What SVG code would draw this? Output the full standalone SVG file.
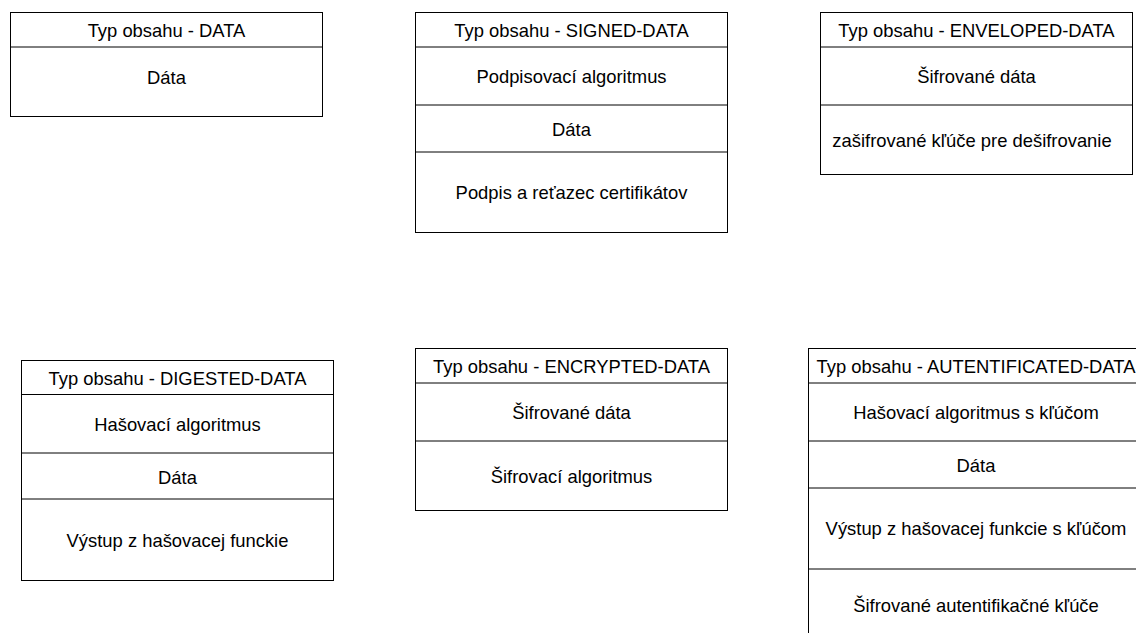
<svg xmlns="http://www.w3.org/2000/svg" width="1136" height="633" viewBox="0 0 1136 633">
<style>
rect.b{fill:#fff;stroke:#000;stroke-width:1}
line{stroke:#000;stroke-width:1}
text{font-family:"Liberation Sans",Arial,sans-serif;font-size:18.4px;fill:#000;text-anchor:middle;dominant-baseline:central}
</style>
<rect width="1136" height="633" fill="#fff"/>
<g id="data">
<rect class="b" x="10.5" y="12.5" width="312" height="104"/>
<line x1="10.5" y1="47" x2="322.5" y2="47"/>
<text x="166.5" y="30">Typ obsahu - DATA</text>
<text x="166.5" y="77">Dáta</text>
</g>
<g id="signed-data">
<rect class="b" x="415.5" y="12.5" width="312" height="220"/>
<line x1="415.5" y1="47" x2="727.5" y2="47"/>
<line x1="415.5" y1="105" x2="727.5" y2="105"/>
<line x1="415.5" y1="152" x2="727.5" y2="152"/>
<text x="571.5" y="30">Typ obsahu - SIGNED-DATA</text>
<text x="571.5" y="76">Podpisovací algoritmus</text>
<text x="571.5" y="129">Dáta</text>
<text x="571.5" y="192">Podpis a reťazec certifikátov</text>
</g>
<g id="enveloped-data">
<rect class="b" x="820.5" y="12.5" width="312" height="162"/>
<line x1="820.5" y1="47" x2="1132.5" y2="47"/>
<line x1="820.5" y1="105" x2="1132.5" y2="105"/>
<text x="976.5" y="30">Typ obsahu - ENVELOPED-DATA</text>
<text x="976.5" y="76">Šifrované dáta</text>
<text x="972" y="140">zašifrované kľúče pre dešifrovanie</text>
</g>
<g id="digested-data">
<rect class="b" x="21.5" y="360.5" width="312" height="220"/>
<line x1="21.5" y1="394.5" x2="333.5" y2="394.5"/>
<line x1="21.5" y1="453" x2="333.5" y2="453"/>
<line x1="21.5" y1="499" x2="333.5" y2="499"/>
<text x="177.5" y="378">Typ obsahu - DIGESTED-DATA</text>
<text x="177.5" y="424">Hašovací algoritmus</text>
<text x="177.5" y="477">Dáta</text>
<text x="177.5" y="540">Výstup z hašovacej funckie</text>
</g>
<g id="encrypted-data">
<rect class="b" x="415.5" y="348.5" width="312" height="162"/>
<line x1="415.5" y1="383" x2="727.5" y2="383"/>
<line x1="415.5" y1="441" x2="727.5" y2="441"/>
<text x="571.5" y="366">Typ obsahu - ENCRYPTED-DATA</text>
<text x="571.5" y="412">Šifrované dáta</text>
<text x="571.5" y="476">Šifrovací algoritmus</text>
</g>
<g id="autentificated-data">
<rect class="b" x="808.5" y="348.5" width="336" height="295"/>
<line x1="808.5" y1="383" x2="1144" y2="383"/>
<line x1="808.5" y1="441" x2="1144" y2="441"/>
<line x1="808.5" y1="488" x2="1144" y2="488"/>
<line x1="808.5" y1="569" x2="1144" y2="569"/>
<text x="976" y="366">Typ obsahu - AUTENTIFICATED-DATA</text>
<text x="976" y="412">Hašovací algoritmus s kľúčom</text>
<text x="976" y="465">Dáta</text>
<text x="976" y="528">Výstup z hašovacej funkcie s kľúčom</text>
<text x="976" y="605">Šifrované autentifikačné kľúče</text>
</g>
<g id="connectors"/>
</svg>
